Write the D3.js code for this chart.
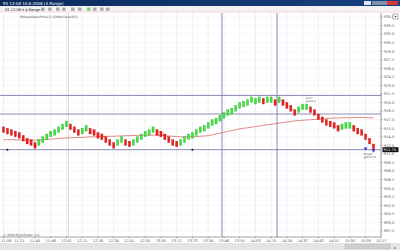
<!DOCTYPE html>
<html>
<head>
<meta charset="utf-8">
<script src="https://cdn.jsdelivr.net/npm/d3@7"></script>
<style>
  body { margin: 0; background: #fff; }
  svg { display: block; font-family: "DejaVu Sans", sans-serif; }
</style>
</head>
<body>
<svg id="chart" width="400" height="250"></svg>
<script>
// range bar closes (4 range = 1.0 pt), direction per bar: G up, R down
const closes = [
  914.75, 914.5, 914.25, 914.0, 913.75, 913.25, 912.75, 912.5, 912.0, 913.5,
  914.0, 914.5, 915.0, 915.25, 915.75, 916.25, 916.75, 915.25, 914.75, 914.25,
  915.5, 916.0, 914.5, 914.25, 913.75, 913.5, 913.0, 912.5, 912.0, 913.5,
  914.0, 912.5, 912.25, 913.5, 914.0, 914.5, 915.0, 915.25, 915.75, 914.25,
  914.0, 913.5, 913.0, 912.5, 912.25, 913.5, 914.0, 914.5, 914.75, 915.25,
  915.75, 916.0, 916.5, 917.0, 917.25, 917.75, 918.25, 918.75, 919.0, 919.5,
  920.0, 920.25, 920.5, 921.0, 920.75, 921.0, 919.75, 921.0, 921.0, 919.5,
  921.0, 919.5, 919.0, 918.5, 917.75, 919.25, 919.75, 919.75, 918.25, 917.75,
  917.0, 916.5, 916.0, 915.75, 915.5, 915.0, 916.25, 916.5, 916.5, 915.0,
  914.5, 914.25, 913.5, 912.75, 911.75
];
const dirs = 'RRRRRRRRRGGGGGGGGRRRGGRRRRRRRGGRRGGGGGGRRRRRRGGGGGGGGGGGGGGGGGGGGGRGGRGRRRRGGGRRRRRRRRGGGRRRRRR';
const rangeSize = 1.0;

// RMeanOpenPrice line
const meanLine = [
  913.5, 913.5, 913.5, 913.45, 913.45, 913.45, 913.4, 913.4, 913.4, 913.45,
  913.5, 913.55, 913.6, 913.65, 913.7, 913.75, 913.8, 913.85, 913.85, 913.9,
  913.9, 913.95, 914.0, 914.0, 914.05, 914.05, 914.1, 914.1, 914.1, 914.15,
  914.15, 914.2, 914.2, 914.25, 914.25, 914.25, 914.3, 914.3, 914.3, 914.3,
  914.25, 914.2, 914.15, 914.1, 914.05, 914.0, 914.0, 914.0, 914.0, 914.05,
  914.1, 914.15, 914.2, 914.35, 914.5, 914.65, 914.8, 914.95, 915.1, 915.25,
  915.4, 915.5, 915.6, 915.7, 915.8, 915.9, 916.0, 916.1, 916.2, 916.3,
  916.4, 916.5, 916.6, 916.7, 916.8, 916.85, 916.9, 916.95, 917.0, 917.05,
  917.1, 917.15, 917.2, 917.25, 917.3, 917.3, 917.35, 917.35, 917.35, 917.4,
  917.4, 917.4, 917.35, 917.35, 917.3
];

const yTicks = [
  '935.0', '933.5', '932.0', '930.5', '929.0', '927.5', '926.0', '924.5', '923.0',
  '921.5', '920.0', '918.5', '917.0', '915.5', '914.0', '912.5', '911.0', '909.5',
  '908.0', '906.5', '905.0', '903.5', '902.0', '900.5', '899.0', '897.5'
];
const xTickBars = [0, 4, 8, 12, 16, 20, 24, 28, 32, 36, 40, 44, 48, 52, 56, 60, 64, 68, 72, 76, 80, 84, 88, 92, 96];
const xTicks = [
  '11:08', '11:21', '11:40', '11:48', '12:02', '12:11', '12:26', '12:34', '12:41',
  '12:50', '13:05', '13:12', '13:23', '13:34', '13:46', '13:55', '14:03', '14:15',
  '14:24', '14:32', '14:43', '14:51', '15:00', '15:09', '15:17'
];

// drawn lines: stop, entry, target prices; vertical markers at bars
const hLines = [921.25, 918.0, 911.75];
const vLineBars = [55.5, 69.5];
const dotBars = [1, 48];
const entryBar = 77, entryPrice = 918.0;
const targetBar = 93, targetPrice = 911.75;
const lastPrice = 911.75;

const svg = d3.select('#chart');
const plot = {left: 0, right: 381, top: 13, bottom: 237};

let x = d3.scaleLinear().domain([0, closes.length - 1]).range([3.5, 373.5]);
let y = d3.scaleLinear().domain([897.5, 935]).range([231, 17]);

// ---- window chrome ----
let grad = svg.append('defs').append('linearGradient').attr('id', 'tb');
grad.append('stop').attr('offset', '0%').attr('stop-color', '#0b2a5c');
grad.append('stop').attr('offset', '100%').attr('stop-color', '#16407e');
svg.append('rect').attr('width', 400).attr('height', 6).attr('fill', 'url(#tb)');
svg.append('text').attr('x', 3).attr('y', 4.6).attr('font-size', 4).attr('fill', '#fff')
  .text('ES 12-08  10.8.2008 (4 Range)');
svg.append('rect').attr('x', 364).attr('y', 1).attr('width', 7).attr('height', 4).attr('fill', '#dfe6f2');
svg.append('rect').attr('x', 372).attr('y', 1).attr('width', 15).attr('height', 4).attr('fill', '#7f90ad');
svg.append('rect').attr('x', 387).attr('y', 1).attr('width', 11).attr('height', 4).attr('fill', '#d23b3b');

svg.append('rect').attr('y', 6).attr('width', 400).attr('height', 6).attr('fill', '#f2f2f2');
svg.append('line').attr('x1', 0).attr('x2', 400).attr('y1', 12).attr('y2', 12).attr('stroke', '#f1dada');
svg.append('text').attr('x', 5).attr('y', 10.6).attr('font-size', 3.6).attr('fill', '#222')
  .text('ES 12-08 \u25be  4 Range \u25be');
[41, 48, 56, 62, 71, 78, 87, 93, 100, 106].forEach(function(ix, k) {
  svg.append('rect').attr('x', ix).attr('y', 7.6).attr('width', 3.6).attr('height', 3.2)
    .attr('fill', k === 6 ? '#7ac043' : '#9a9a9a').attr('opacity', 0.8);
});

// ---- plot area ----
svg.append('rect').attr('y', plot.top).attr('width', 400).attr('height', plot.bottom - plot.top).attr('fill', '#fff');

let grid = svg.append('g').attr('class', 'grid');
yTicks.forEach(function(t) {
  grid.append('line').attr('x1', plot.left).attr('x2', plot.right)
    .attr('y1', y(+t)).attr('y2', y(+t)).attr('stroke', '#f1f1f1').attr('stroke-width', 0.6);
});
xTickBars.forEach(function(b) {
  grid.append('line').attr('x1', x(b)).attr('x2', x(b))
    .attr('y1', plot.top).attr('y2', plot.bottom).attr('stroke', '#e6e6e6').attr('stroke-width', 0.6);
});
grid.append('line').attr('x1', x(16.5)).attr('x2', x(16.5)).attr('y1', plot.top).attr('y2', plot.bottom)
  .attr('stroke', '#c8c8c8').attr('stroke-width', 0.7);

let drawn = svg.append('g').attr('class', 'drawn');
hLines.forEach(function(p) {
  drawn.append('line').attr('x1', plot.left).attr('x2', plot.right)
    .attr('y1', y(p)).attr('y2', y(p)).attr('stroke', '#6c6ca6').attr('stroke-width', 0.8);
});
vLineBars.forEach(function(b) {
  drawn.append('line').attr('x1', x(b)).attr('x2', x(b))
    .attr('y1', plot.top).attr('y2', plot.bottom).attr('stroke', '#6c6ca6').attr('stroke-width', 0.8);
});

svg.append('path').datum(meanLine)
  .attr('fill', 'none').attr('stroke', '#d86a6a').attr('stroke-width', 0.8)
  .attr('d', d3.line().x(function(d, i) { return x(i); }).y(function(d) { return y(d); }));

let bars = svg.append('g').attr('class', 'bars');
closes.forEach(function(c, i) {
  let up = dirs[i] === 'G';
  let o = up ? c - rangeSize : c + rangeSize;
  let top = y(Math.max(o, c)), bot = y(Math.min(o, c));
  bars.append('rect')
    .attr('x', x(i) - 1.1).attr('y', top).attr('width', 2.2).attr('height', bot - top)
    .attr('fill', up ? '#3fe23f' : '#ee1c1c')
    .attr('stroke', up ? '#2aa82a' : '#b01010').attr('stroke-width', 0.3);
});

dotBars.forEach(function(b) {
  svg.append('circle').attr('cx', x(b)).attr('cy', y(targetPrice)).attr('r', 1).attr('fill', '#111');
});

// entry / target labels
svg.append('text').attr('x', x(entryBar) - 1).attr('y', y(entryPrice) - 15)
  .attr('font-size', 2.6).attr('fill', '#666').text('Short');
svg.append('text').attr('x', x(entryBar) - 1).attr('y', y(entryPrice) - 12)
  .attr('font-size', 2.6).attr('fill', '#666').text('@918.0');
svg.append('path')
  .attr('d', d3.symbol(d3.symbolTriangle, 6)())
  .attr('transform', 'translate(' + x(targetBar - 1) + ',' + (y(targetPrice) - 1) + ') rotate(180)')
  .attr('fill', '#2b3bd8');
svg.append('path')
  .attr('d', d3.symbol(d3.symbolTriangle, 6)())
  .attr('transform', 'translate(' + x(targetBar + 1) + ',' + (y(targetPrice) + 1) + ') rotate(180)')
  .attr('fill', '#2b3bd8');
svg.append('text').attr('x', x(targetBar) - 6).attr('y', y(targetPrice) + 5.5)
  .attr('font-size', 2.8).attr('fill', '#555').text('Target');
svg.append('text').attr('x', x(targetBar) - 6).attr('y', y(targetPrice) + 8.8)
  .attr('font-size', 2.8).attr('fill', '#555').text('@911.75');

svg.append('text').attr('x', 20).attr('y', 17.5).attr('font-size', 3.2).attr('fill', '#555')
  .text('RMeanOpenPrice(1) (SMA(Close(8)))');

// ---- axes ----
let yAxis = svg.append('g').attr('transform', 'translate(' + plot.right + ',0)');
yAxis.append('line').attr('y1', plot.top).attr('y2', plot.bottom).attr('stroke', '#666').attr('stroke-width', 0.6);
yTicks.forEach(function(t) {
  yAxis.append('line').attr('x1', 0).attr('x2', 1.5).attr('y1', y(+t)).attr('y2', y(+t))
    .attr('stroke', '#666').attr('stroke-width', 0.5);
  yAxis.append('text').attr('x', 3).attr('y', y(+t) + 1.3).attr('font-size', 3.6).attr('fill', '#555').text(t);
});
yAxis.append('rect').attr('x', 1.5).attr('y', y(lastPrice) - 2.5).attr('width', 16).attr('height', 5).attr('fill', '#111');
yAxis.append('text').attr('x', 2.5).attr('y', y(lastPrice) + 1.3).attr('font-size', 3.6).attr('fill', '#fff')
  .text(lastPrice.toFixed(2));
svg.append('rect').attr('x', 393).attr('y', 14).attr('width', 5).attr('height', 5)
  .attr('fill', '#fff').attr('stroke', '#666').attr('stroke-width', 0.5);
svg.append('circle').attr('cx', 395.5).attr('cy', 16.5).attr('r', 0.8).attr('fill', '#333');

let xAxis = svg.append('g').attr('transform', 'translate(0,' + plot.bottom + ')');
xAxis.append('line').attr('x1', 0).attr('x2', plot.right).attr('stroke', '#666').attr('stroke-width', 0.6);
xTickBars.forEach(function(b, k) {
  xAxis.append('line').attr('x1', x(b)).attr('x2', x(b)).attr('y1', 0).attr('y2', 1.5)
    .attr('stroke', '#666').attr('stroke-width', 0.5);
  xAxis.append('text').attr('x', k === 0 ? 1 : x(b)).attr('y', 5)
    .attr('text-anchor', k === 0 ? 'start' : 'middle')
    .attr('font-size', 3.6).attr('fill', '#555').text(xTicks[k]);
});
svg.append('text').attr('x', 3).attr('y', 235.5).attr('font-size', 3).attr('fill', '#555')
  .text('\u00a9 2008 NinjaTrader, LLC');

// scrollbar
svg.append('rect').attr('y', 243).attr('width', 400).attr('height', 7).attr('fill', '#e4e4e4');
svg.append('rect').attr('x', 345).attr('y', 244).attr('width', 45).attr('height', 5).attr('fill', '#cfcfcf')
  .attr('stroke', '#b8b8b8').attr('stroke-width', 0.4);
svg.append('text').attr('x', 394).attr('y', 248.5).attr('font-size', 4).attr('fill', '#666').text('\u25b8');
</script>
</body>
</html>
